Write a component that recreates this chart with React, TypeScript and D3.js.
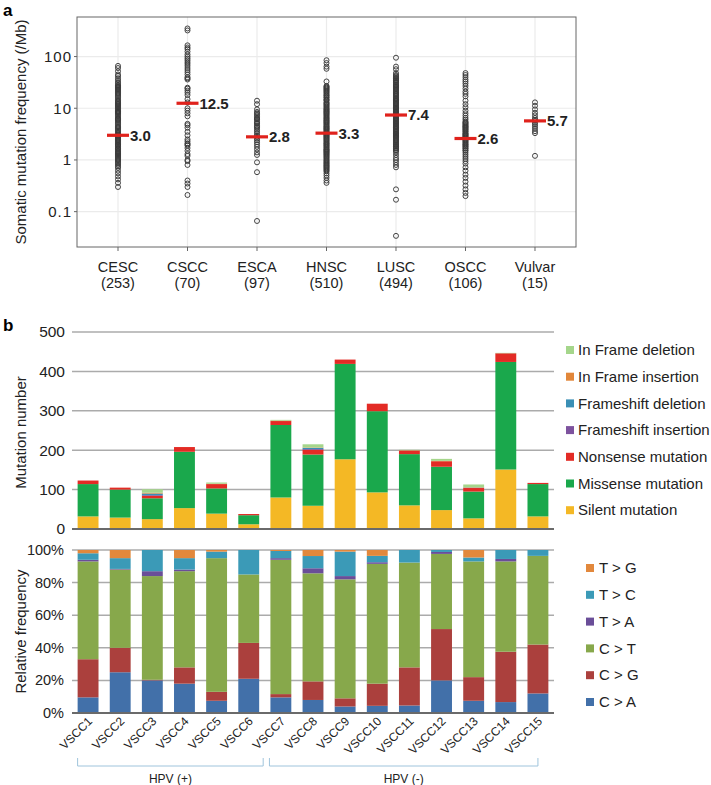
import React from "react";
import * as d3 from "d3";

// ---------- Panel a data ----------
const cohorts = ["CESC", "CSCC", "ESCA", "HNSC", "LUSC", "OSCC", "Vulvar"];
const cohortN = ["(253)", "(70)", "(97)", "(510)", "(494)", "(106)", "(15)"];
const medians = [3.0, 12.5, 2.8, 3.3, 7.4, 2.6, 5.7];
const yTicksA = [0.1, 1, 10, 100];

const cescVals = [66, 60, 52, 45, 42, 38, 35, 32, 30, 28, 27, 26, 25, 24, 23, 22, 21, 20, 19, 18, 17, 16, 15, 14, 13.5, 13, 12.5, 12, 11.5, 11, 10.5, 10, 9.5, 9, 8.7, 8.5, 8.2, 8, 7.6, 7.2, 6.8, 6.4, 6.2, 6, 5.7, 5.4, 5.1, 4.8, 4.5, 4.3, 4.1, 3.9, 3.7, 3.5, 3.3, 3.1, 3.0, 2.9, 2.8, 2.7, 2.6, 2.5, 2.4, 2.3, 2.2, 2.1, 2.0, 1.95, 1.9, 1.8, 1.7, 1.65, 1.6, 1.5, 1.45, 1.4, 1.35, 1.3, 1.25, 1.2, 1.15, 1.1, 1.05, 1.0, 0.95, 0.9, 0.85, 0.8, 0.75, 0.7, 0.62, 0.55, 0.48, 0.42, 0.36, 0.3];
const csccVals = [350, 320, 165, 150, 140, 125, 110, 100, 92, 85, 78, 72, 66, 60, 55, 50, 45, 40, 38, 36, 25, 24, 22, 20, 18, 15, 13, 10, 9, 8, 7, 5, 4.7, 4.2, 3.5, 3.0, 2.5, 2.3, 2.1, 2.0, 1.9, 1.7, 1.5, 1.3, 1.2, 1.0, 0.95, 0.8, 0.4, 0.35, 0.3, 0.21];
const escaVals = [14, 12, 9.5, 8.5, 8, 7.5, 7, 6.5, 6.2, 6, 5.5, 5.2, 5, 4.6, 4.4, 4.2, 3.9, 3.6, 3.3, 3.0, 2.8, 2.6, 2.4, 2.2, 2.0, 1.8, 1.6, 1.4, 1.25, 0.9, 0.58, 0.066];
const hnscVals = [85, 75, 64, 58, 33, 27, 26, 25, 24, 23, 22, 21, 20, 19, 18, 17.5, 16.5, 16, 15, 14.5, 14, 13, 12.5, 12, 11.5, 11, 10.5, 10, 9.6, 9.3, 8.9, 8.6, 8.3, 8, 7.7, 7.4, 7.1, 6.8, 6.5, 6.3, 6, 5.8, 5.6, 5.4, 5.2, 5, 4.8, 4.6, 4.4, 4.3, 4.1, 4, 3.85, 3.7, 3.55, 3.4, 3.3, 3.2, 3.1, 3, 2.9, 2.8, 2.7, 2.6, 2.5, 2.4, 2.3, 2.2, 2.1, 2.05, 1.95, 1.9, 1.8, 1.75, 1.65, 1.6, 1.55, 1.5, 1.45, 1.4, 1.35, 1.3, 1.25, 1.2, 1.15, 1.1, 1.05, 1.0, 0.96, 0.92, 0.88, 0.85, 0.81, 0.78, 0.75, 0.72, 0.69, 0.66, 0.63, 0.6, 0.55, 0.5, 0.45, 0.4, 0.36];
const luscVals = [95, 64, 57, 48, 44, 42, 40, 38, 37, 35, 34, 32, 31, 29, 28, 27, 26, 25, 24, 23, 22, 21, 20, 19, 18.5, 17.5, 17, 16, 15.5, 15, 14.5, 14, 13.5, 13, 12.5, 12, 11.5, 11, 10.5, 10.2, 9.8, 9.5, 9.1, 8.8, 8.5, 8.2, 7.9, 7.6, 7.4, 7.1, 6.9, 6.6, 6.4, 6.2, 6, 5.8, 5.6, 5.4, 5.2, 5, 4.8, 4.6, 4.5, 4.3, 4.2, 4, 3.9, 3.75, 3.6, 3.45, 3.3, 3.2, 3.1, 3, 2.9, 2.8, 2.7, 2.6, 2.5, 2.4, 2.3, 2.2, 2.1, 2.0, 1.95, 1.85, 1.8, 1.7, 1.65, 1.56, 1.5, 1.4, 1.25, 1.1, 1.0, 0.9, 0.8, 0.72, 0.27, 0.17, 0.034];
const osccVals = [48, 44, 40, 36, 33, 30, 27, 24, 21, 19, 17, 14, 12, 10.5, 9, 8, 7.2, 6.5, 6, 5.5, 5.3, 5.1, 4.9, 4.7, 4.5, 4.4, 4.2, 4.1, 3.9, 3.8, 3.6, 3.5, 3.3, 3.2, 3.1, 3.0, 2.9, 2.8, 2.7, 2.6, 2.5, 2.4, 2.3, 2.2, 2.1, 2.0, 1.95, 1.85, 1.8, 1.7, 1.65, 1.55, 1.5, 1.38, 1.26, 1.15, 1.05, 0.95, 0.85, 0.72, 0.62, 0.52, 0.45, 0.38, 0.32, 0.27, 0.23, 0.2];
const vulvarVals = [13, 11.2, 9.5, 8.2, 7.3, 6.5, 6, 5.7, 5.2, 4.8, 4.4, 4.0, 3.6, 3.3, 1.2];
const cohortVals = [cescVals, csccVals, escaVals, hnscVals, luscVals, osccVals, vulvarVals];

// ---------- Panel b data ----------
const samples = ["VSCC1", "VSCC2", "VSCC3", "VSCC4", "VSCC5", "VSCC6", "VSCC7", "VSCC8", "VSCC9", "VSCC10", "VSCC11", "VSCC12", "VSCC13", "VSCC14", "VSCC15"];

const mutTypes = ["Silent mutation", "Missense mutation", "Nonsense mutation", "Frameshift insertion", "Frameshift deletion", "In Frame insertion", "In Frame deletion"];
const mutColors = ["#f4b825", "#1aa84c", "#e32b25", "#7d529e", "#3a8fb5", "#e2873a", "#a5d68b"];
const silent = [32, 29, 25, 53, 39, 12, 80, 59, 177, 93, 60, 48, 27, 151, 32];
const missense = [82, 71, 53, 143, 64, 23, 184, 130, 242, 206, 130, 110, 68, 273, 82];
const nonsense = [9, 5, 6, 12, 11, 3, 10, 12, 11, 19, 9, 14, 9, 22, 3];
const fsIns = [0, 0, 2, 0, 0, 0, 0, 2, 0, 0, 0, 0, 0, 0, 0];
const fsDel = [0, 0, 4, 0, 0, 0, 0, 3, 0, 0, 0, 0, 1, 0, 0];
const ifIns = [0, 0, 2, 0, 1, 0, 1, 1, 0, 0, 1, 1, 1, 0, 0];
const ifDel = [0, 0, 9, 0, 3, 0, 2, 8, 0, 0, 1, 5, 7, 1, 0];
const mutSeries = [silent, missense, nonsense, fsIns, fsDel, ifIns, ifDel];
const yTicksB1 = [0, 100, 200, 300, 400, 500];

const subTypes = ["C > A", "C > G", "C > T", "T > A", "T > C", "T > G"];
const subColors = ["#4270a9", "#ab403d", "#87a84b", "#6a4e98", "#3b9ab7", "#e2883c"];
const cToA = [9.6, 25, 20, 18, 7.5, 21, 9.6, 8, 4, 4.4, 4.6, 20, 7.5, 6.7, 12];
const cToG = [23.4, 15, 0.4, 10, 5.5, 22, 2, 11.4, 5, 13.6, 23.4, 31.5, 14.5, 30.9, 30];
const cToT = [60, 48, 63.6, 59, 82, 42, 82.4, 66.3, 73, 73.5, 64.3, 46.1, 71, 55.4, 54.4];
const tToA = [1, 0.4, 3, 1, 0, 0, 1, 3.1, 2, 1, 0, 1.2, 0, 1.5, 0];
const tToC = [4, 6.6, 13, 7, 4, 15, 4.4, 7.5, 15, 3.9, 7.7, 1.2, 2.4, 5.5, 3.6];
const tToG = [2, 5, 0, 5, 1, 0, 0.6, 3.7, 1, 3.6, 0, 0, 4.6, 0, 0];
const subSeries = [cToA, cToG, cToT, tToA, tToC, tToG];
const yTicksB2 = [0, 20, 40, 60, 80, 100];

const FONT = "'Liberation Sans', Arial, Helvetica, sans-serif";

export default function App() {
  // Panel a scales
  const ax0 = 77, ax1 = 576, ay0 = 17, ay1 = 247;
  const xA = d3.scalePoint<string>().domain(cohorts).range([ax0, ax1]).padding(0.59);
  const yA = d3.scaleLog().domain([0.0207, 583]).range([ay1, ay0]);

  // Panel b scales
  const bx0 = 72, bx1 = 554;
  const xB = d3.scaleBand<string>().domain(samples).range([bx0, bx1]).paddingInner(0.35).paddingOuter(0.175);
  const yB1 = d3.scaleLinear().domain([0, 500]).range([529, 332]);
  const yB2 = d3.scaleLinear().domain([0, 100]).range([713, 550]);

  const table1 = samples.map((s, i) => {
    const o: any = { sample: s };
    mutTypes.forEach((t, k) => (o[t] = mutSeries[k][i]));
    return o;
  });
  const stack1 = d3.stack<any>().keys(mutTypes)(table1);

  const table2 = samples.map((s, i) => {
    const o: any = { sample: s };
    const tot = subSeries.reduce((a, arr) => a + arr[i], 0);
    subTypes.forEach((t, k) => (o[t] = (subSeries[k][i] / tot) * 100));
    return o;
  });
  const stack2 = d3.stack<any>().keys(subTypes)(table2);

  const bw = xB.bandwidth();
  const hpvPlusStart = xB("VSCC1")!;
  const hpvPlusEnd = xB("VSCC6")! + bw + 4;
  const hpvMinusStart = xB("VSCC7")! - 1;
  const hpvMinusEnd = xB("VSCC15")! + bw / 2;
  const bracketColor = "#9fc4dc";

  return (
    <svg width={711} height={785} style={{ position: "absolute", left: 0, top: 0, background: "#fff" }} fontFamily={FONT}>
      {/* ---------------- Panel a ---------------- */}
      <text x={3} y={16} fontSize={17} fontWeight="bold" fill="#000">a</text>
      <rect x={ax0} y={ay0} width={ax1 - ax0} height={ay1 - ay0} fill="#fff" />
      {yTicksA.map((t) => (
        <line key={"gh" + t} x1={ax0} x2={ax1} y1={yA(t)} y2={yA(t)} stroke="#ebebeb" strokeWidth={1.2} />
      ))}
      {cohorts.map((c) => (
        <line key={"gv" + c} x1={xA(c)} x2={xA(c)} y1={ay0} y2={ay1} stroke="#ebebeb" strokeWidth={1.2} />
      ))}
      {cohorts.map((c, i) =>
        cohortVals[i].map((v, j) => (
          <circle key={c + j} cx={xA(c)} cy={yA(v)} r={2.5} fill="none" stroke="#3a3a3a" strokeWidth={0.95} />
        ))
      )}
      {cohorts.map((c, i) => (
        <g key={"med" + c}>
          <line x1={xA(c)! - 11} x2={xA(c)! + 11} y1={yA(medians[i])} y2={yA(medians[i])} stroke="#e0221c" strokeWidth={3.2} />
          <text x={xA(c)! + 12} y={yA(medians[i])} dy="0.36em" fontSize={15} fontWeight="bold" fill="#222">
            {medians[i].toFixed(1)}
          </text>
        </g>
      ))}
      <rect x={ax0} y={ay0} width={ax1 - ax0} height={ay1 - ay0} fill="none" stroke="#666" strokeWidth={1} />
      {yTicksA.map((t) => (
        <g key={"yt" + t}>
          <line x1={ax0 - 3} x2={ax0} y1={yA(t)} y2={yA(t)} stroke="#666" />
          <text x={72} y={yA(t)} dy="0.35em" textAnchor="end" fontSize={15} letterSpacing={1} fill="#222">{t}</text>
        </g>
      ))}
      {cohorts.map((c, i) => (
        <g key={"xt" + c}>
          <line x1={xA(c)} x2={xA(c)} y1={ay1} y2={ay1 + 4} stroke="#666" />
          <text x={xA(c)} y={272} textAnchor="middle" fontSize={14.5} fill="#222">{c}</text>
          <text x={xA(c)} y={288} textAnchor="middle" fontSize={14.5} fill="#222">{cohortN[i]}</text>
        </g>
      ))}
      <text transform={`translate(26,${(ay0 + ay1) / 2}) rotate(-90)`} textAnchor="middle" fontSize={15} fill="#222">
        Somatic mutation frequency (/Mb)
      </text>

      {/* ---------------- Panel b ---------------- */}
      <text x={3} y={331} fontSize={17} fontWeight="bold" fill="#000">b</text>

      {/* top: mutation number */}
      {yTicksB1.filter((t) => t > 0).map((t) => (
        <line key={"g1" + t} x1={bx0} x2={bx1} y1={yB1(t)} y2={yB1(t)} stroke="#ababab" strokeWidth={1.5} />
      ))}
      {stack1.map((layer, k) => (
        <g key={"l1" + k} fill={mutColors[k]}>
          {layer.map((d: any, i: number) => (
            <rect key={i} x={xB(samples[i])} width={bw} y={yB1(d[1])} height={Math.max(0, yB1(d[0]) - yB1(d[1]))} />
          ))}
        </g>
      ))}
      <line x1={bx0} x2={bx1} y1={yB1(0)} y2={yB1(0)} stroke="#6a6a6a" strokeWidth={2} />
      {yTicksB1.map((t) => (
        <text key={"yt1" + t} x={65} y={yB1(t)} dy="0.35em" textAnchor="end" fontSize={15.5} fill="#222">{t}</text>
      ))}
      <text transform={`translate(26,${(yB1(0) + yB1(500)) / 2 + 2}) rotate(-90)`} textAnchor="middle" fontSize={15} fill="#222">
        Mutation number
      </text>
      {mutTypes.slice().reverse().map((t, i) => {
        const k = mutTypes.length - 1 - i;
        const cy = 350 + i * 26.7;
        return (
          <g key={"lg1" + t}>
            <rect x={566} y={cy - 4} width={8} height={8} fill={mutColors[k]} />
            <text x={578} y={cy} dy="0.35em" fontSize={15} fill="#222">{t}</text>
          </g>
        );
      })}

      {/* bottom: relative frequency */}
      {yTicksB2.filter((t) => t > 0).map((t) => (
        <line key={"g2" + t} x1={bx0} x2={bx1} y1={yB2(t)} y2={yB2(t)} stroke="#ababab" strokeWidth={1.5} />
      ))}
      {stack2.map((layer, k) => (
        <g key={"l2" + k} fill={subColors[k]}>
          {layer.map((d: any, i: number) => (
            <rect key={i} x={xB(samples[i])} width={bw} y={yB2(d[1])} height={Math.max(0, yB2(d[0]) - yB2(d[1]))} />
          ))}
        </g>
      ))}
      <line x1={bx0} x2={bx1} y1={yB2(0)} y2={yB2(0)} stroke="#6a6a6a" strokeWidth={2} />
      {yTicksB2.map((t) => (
        <text key={"yt2" + t} x={64} y={yB2(t)} dy="0.35em" textAnchor="end" fontSize={14.5} fill="#222">{t + "%"}</text>
      ))}
      <text transform={`translate(26,${(yB2(0) + yB2(100)) / 2}) rotate(-90)`} textAnchor="middle" fontSize={15} fill="#222">
        Relative frequency
      </text>
      {subTypes.slice().reverse().map((t, i) => {
        const k = subTypes.length - 1 - i;
        const cy = 568 + i * 26.8;
        return (
          <g key={"lg2" + t}>
            <rect x={586} y={cy - 4} width={8} height={8} fill={subColors[k]} />
            <text x={599} y={cy} dy="0.35em" fontSize={15} fill="#222">{t}</text>
          </g>
        );
      })}
      {samples.map((s) => (
        <text key={"xl" + s} transform={`translate(${xB(s)! + bw / 2 + 5},${722}) rotate(-45)`} textAnchor="end" fontSize={12} fill="#222">
          {s}
        </text>
      ))}

      {/* HPV brackets */}
      <path d={`M${hpvPlusStart},758 V766 H${hpvPlusEnd} V758`} fill="none" stroke={bracketColor} strokeWidth={1} />
      <path d={`M${hpvMinusStart},758 V766 H${hpvMinusEnd} V758`} fill="none" stroke={bracketColor} strokeWidth={1} />
      <text x={(hpvPlusStart + hpvPlusEnd) / 2} y={783} textAnchor="middle" fontSize={12} fill="#222">HPV (+)</text>
      <text x={(hpvMinusStart + hpvMinusEnd) / 2} y={783} textAnchor="middle" fontSize={12} fill="#222">HPV (-)</text>
    </svg>
  );
}
